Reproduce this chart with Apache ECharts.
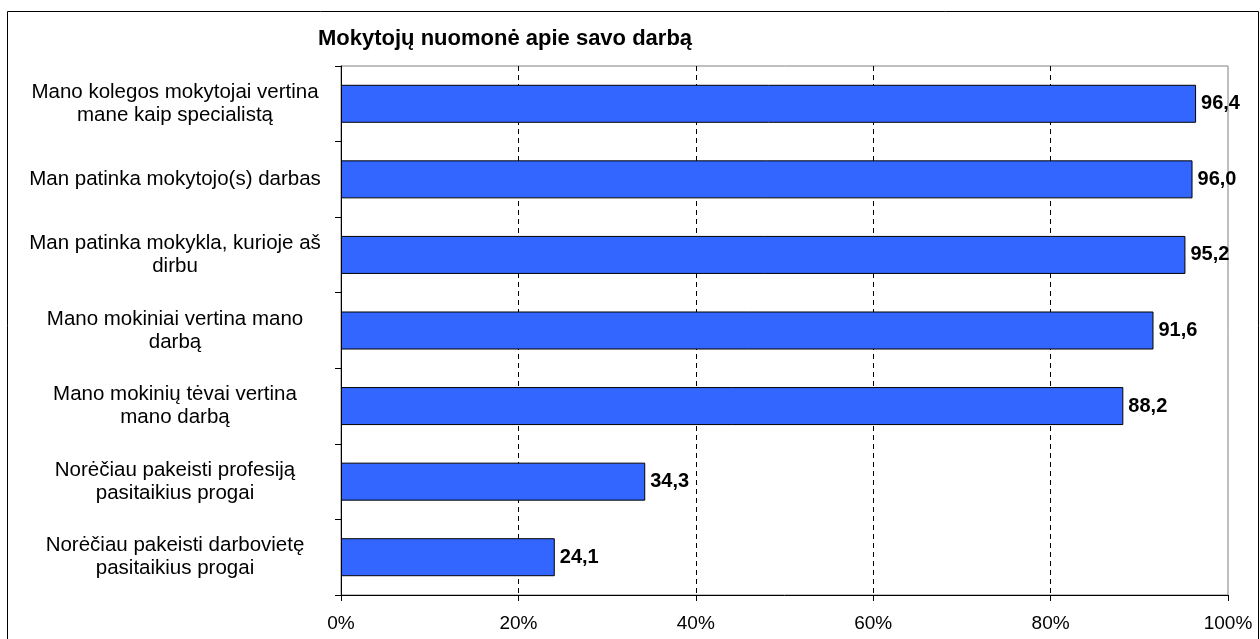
<!DOCTYPE html>
<html>
<head>
<meta charset="utf-8">
<title>Mokytojų nuomonė apie savo darbą</title>
<script src="https://cdn.jsdelivr.net/npm/echarts@6/dist/echarts.min.js"></script>
<style>
  html, body { margin: 0; padding: 0; background: #fff; }
  #chart { width: 1260px; height: 639px; }
</style>
</head>
<body>
<div id="chart"></div>
<script>
// kategorijos (iš viršaus į apačią)
const categories = [
  'Mano kolegos mokytojai vertina\nmane kaip specialistą',
  'Man patinka mokytojo(s) darbas',
  'Man patinka mokykla, kurioje aš\ndirbu',
  'Mano mokiniai vertina mano\ndarbą',
  'Mano mokinių tėvai vertina\nmano darbą',
  'Norėčiau pakeisti profesiją\npasitaikius progai',
  'Norėčiau pakeisti darbovietę\npasitaikius progai'
]
// procentai
const values = [96.4, 96.0, 95.2, 91.6, 88.2, 34.3, 24.1]
const titleText = 'Mokytojų nuomonė apie savo darbą'

const font = '"Liberation Sans", Arial, sans-serif'
const chart = echarts.init(document.getElementById('chart'))

chart.setOption({
  animation: false,
  backgroundColor: '#fff',
  textStyle: { fontFamily: font },
  title: {
    text: titleText,
    left: 313,
    top: 23,
    textStyle: { fontFamily: font, fontSize: 22, fontWeight: 'bold', color: '#000' }
  },
  graphic: [{
    type: 'rect',
    z: -10,
    shape: { x: 7.5, y: 11.5, width: 1251, height: 700 },
    style: { fill: 'none', stroke: '#000', lineWidth: 1 }
  }],
  grid: {
    left: 341, right: 32, top: 66, bottom: 44,
    show: true, borderColor: '#808080', borderWidth: 1,
    containLabel: false
  },
  xAxis: {
    type: 'value',
    min: 0, max: 100, interval: 20,
    axisLine: { show: true, lineStyle: { color: '#000', width: 1 } },
    axisTick: { show: true, length: 6, lineStyle: { color: '#000' } },
    axisLabel: {
      formatter: '{value}%', margin: 19,
      fontSize: 19, color: '#000', fontFamily: font
    },
    splitLine: {
      show: true, showMinLine: false, showMaxLine: false,
      lineStyle: { color: '#000', type: [5, 4], width: 1 }
    }
  },
  yAxis: {
    type: 'category',
    data: categories,
    inverse: true,
    axisLine: { show: true, lineStyle: { color: '#000', width: 1 } },
    axisTick: { show: true, length: 6, alignWithLabel: false, lineStyle: { color: '#000' } },
    axisLabel: {
      align: 'center', margin: 166,
      fontSize: 20.5, lineHeight: 23, color: '#000', fontFamily: font
    },
    splitLine: { show: false }
  },
  series: [{
    type: 'bar',
    data: values,
    barWidth: 38,
    itemStyle: { color: '#3366FF', borderColor: '#000', borderWidth: 1 },
    label: {
      show: true, position: 'right', distance: 5,
      formatter: p => p.value.toFixed(1).replace('.', ','),
      fontSize: 20, fontWeight: 'bold', color: '#000', fontFamily: font
    }
  }]
})
</script>
</body>
</html>
